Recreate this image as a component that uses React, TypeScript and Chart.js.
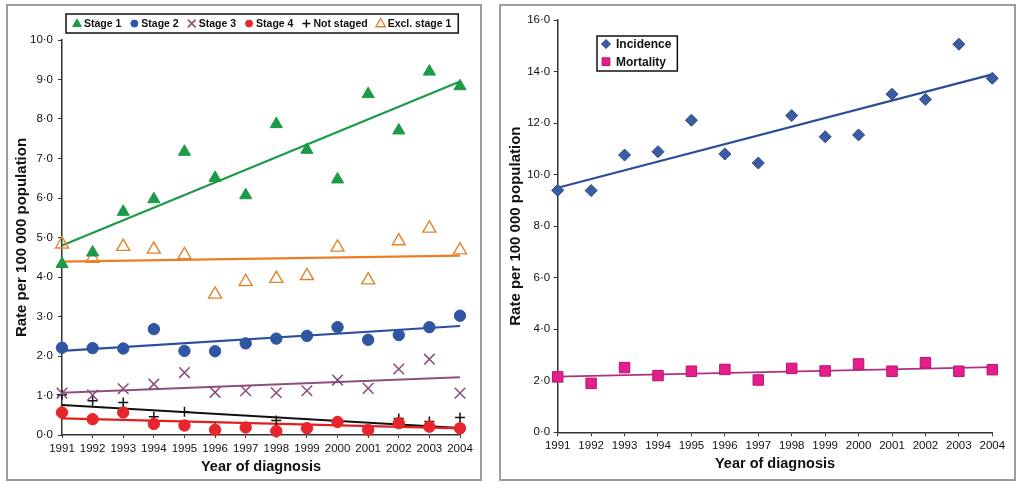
import React, { useEffect, useRef } from 'react';
import { Chart, registerables } from 'chart.js';

Chart.register(...registerables);

// ---------- data ----------
const years = [1991, 1992, 1993, 1994, 1995, 1996, 1997, 1998, 1999, 2000, 2001, 2002, 2003, 2004];

const stage1 = [4.33, 4.62, 5.65, 5.97, 7.17, 6.51, 6.07, 7.87, 7.22, 6.47, 8.63, 7.71, 9.2, 8.83];
const stage2 = [2.21, 2.2, 2.19, 2.68, 2.13, 2.12, 2.32, 2.44, 2.51, 2.73, 2.41, 2.53, 2.73, 3.02];
const stage3 = [1.06, 1.01, 1.17, 1.29, 1.58, 1.08, 1.12, 1.07, 1.12, 1.39, 1.18, 1.67, 1.92, 1.06];
const stage4 = [0.57, 0.4, 0.57, 0.28, 0.24, 0.13, 0.19, 0.1, 0.17, 0.33, 0.13, 0.3, 0.21, 0.17];
const notStaged = [1.02, 0.87, 0.82, 0.46, 0.59, 0.17, 0.18, 0.37, 0.17, 0.34, 0.11, 0.42, 0.34, 0.44];
const exclStage1 = [4.83, 4.47, 4.77, 4.7, 4.56, 3.56, 3.88, 3.96, 4.03, 4.75, 3.92, 4.91, 5.23, 4.68];

const incidence = [9.39, 9.38, 10.76, 10.89, 12.11, 10.8, 10.45, 12.29, 11.47, 11.54, 13.12, 12.92, 15.06, 13.74];
const mortality = [2.15, 1.9, 2.51, 2.2, 2.37, 2.44, 2.03, 2.48, 2.38, 2.65, 2.37, 2.7, 2.37, 2.43];

// trend line end points (first year, last year)
const trendYears = [1991, 2004];
const stage1Trend = [4.8, 8.95];
const stage2Trend = [2.13, 2.76];
const stage3Trend = [1.07, 1.46];
const stage4Trend = [0.42, 0.17];
const notStagedTrend = [0.76, 0.18];
const exclStage1Trend = [4.39, 4.54];
const incidenceTrend = [9.49, 13.89];
const mortalityTrend = [2.16, 2.53];

const leftLabels = ['Stage 1', 'Stage 2', 'Stage 3', 'Stage 4', 'Not staged', 'Excl. stage 1'];
const rightLabels = ['Incidence', 'Mortality'];
const xTitle = 'Year of diagnosis';
const yTitle = 'Rate per 100 000 population';

// ---------- helpers ----------
const FONT = "'Liberation Sans', Arial, Helvetica, sans-serif";

const pts = (vals: number[]) => years.map((x, i) => ({ x, y: vals[i] }));
const trendPts = (vals: number[]) => trendYears.map((x, i) => ({ x, y: vals[i] }));
const fmt = (v: any) => Number(v).toFixed(1).replace('.', '\u00B7');

function drawMarker(ctx: CanvasRenderingContext2D, ds: any, x: number, y: number, r: number) {
  const style = ds.pointStyle;
  ctx.save();
  ctx.beginPath();
  ctx.lineWidth = ds.borderWidth || 1;
  ctx.strokeStyle = ds.borderColor;
  ctx.fillStyle = ds.backgroundColor;
  let fill = true;
  switch (style) {
    case 'triangle':
      ctx.moveTo(x, y - r);
      ctx.lineTo(x + r * 0.866, y + r * 0.5);
      ctx.lineTo(x - r * 0.866, y + r * 0.5);
      ctx.closePath();
      break;
    case 'circle':
      ctx.arc(x, y, r, 0, Math.PI * 2);
      break;
    case 'rectRot':
      ctx.moveTo(x, y - r);
      ctx.lineTo(x + r, y);
      ctx.lineTo(x, y + r);
      ctx.lineTo(x - r, y);
      ctx.closePath();
      break;
    case 'rect': {
      const s = r * Math.SQRT1_2;
      ctx.rect(x - s, y - s, 2 * s, 2 * s);
      break;
    }
    case 'crossRot': {
      const s = r * Math.SQRT1_2;
      ctx.moveTo(x - s, y - s);
      ctx.lineTo(x + s, y + s);
      ctx.moveTo(x - s, y + s);
      ctx.lineTo(x + s, y - s);
      fill = false;
      break;
    }
    case 'cross':
      ctx.moveTo(x, y - r);
      ctx.lineTo(x, y + r);
      ctx.moveTo(x - r, y);
      ctx.lineTo(x + r, y);
      fill = false;
      break;
  }
  if (fill) ctx.fill();
  ctx.stroke();
  ctx.restore();
}

const boxLegend = {
  id: 'boxLegend',
  afterDraw(chart: any, _args: any, opts: any) {
    const ctx: CanvasRenderingContext2D = chart.ctx;
    const items = chart.data.datasets.filter((d: any) => !d.trend);
    ctx.save();
    ctx.font = `bold ${opts.fontSize}px ${FONT}`;
    ctx.textBaseline = 'middle';
    ctx.textAlign = 'left';
    ctx.fillStyle = '#111';
    if (opts.mode === 'row') {
      const cy = opts.top + opts.height / 2;
      let x = opts.left + opts.padLeft;
      let right = x;
      items.forEach((ds: any) => {
        drawMarker(ctx, ds, x, cy + (ds.legendDy || 0), ds.legendRadius);
        const tx = x + opts.markerGap;
        ctx.fillStyle = '#111';
        ctx.fillText(ds.label, tx, cy + 0.5);
        const w = ctx.measureText(ds.label).width;
        right = tx + w + opts.padRight;
        x = tx + w + opts.itemGap;
      });
      ctx.lineWidth = 1.5;
      ctx.strokeStyle = '#111';
      ctx.strokeRect(opts.left, opts.top, right - opts.left, opts.height);
    } else {
      let maxW = 0;
      items.forEach((ds: any, i: number) => {
        const cy = opts.top + opts.firstRow + i * opts.rowHeight;
        drawMarker(ctx, ds, opts.left + opts.padLeft, cy, ds.legendRadius);
        ctx.fillStyle = '#111';
        ctx.fillText(ds.label, opts.left + opts.padLeft + opts.markerGap, cy + 0.5);
        maxW = Math.max(maxW, ctx.measureText(ds.label).width);
      });
      ctx.lineWidth = 1.5;
      ctx.strokeStyle = '#111';
      ctx.strokeRect(opts.left, opts.top, opts.padLeft + opts.markerGap + maxW + opts.padRight, opts.height);
    }
    ctx.restore();
  },
};

const GREEN = '#1c9a48';
const BLUE = '#2f55a3';
const PURPLE = '#8a4a78';
const RED = '#e6262c';
const BLACK = '#111111';
const ORANGE = '#e0852f';
const ORANGE_LINE = '#ee7d22';
const DIAMOND = '#3a5ca3';
const DIAMOND_LINE = '#2c4d98';
const PINK = '#e61e8c';
const PINK_EDGE = '#b8146e';
const PINK_LINE = '#b03082';

function trendDs(label: string, vals: number[], color: string, width = 2) {
  return {
    label,
    trend: true,
    data: trendPts(vals),
    showLine: true,
    pointRadius: 0,
    borderColor: color,
    backgroundColor: color,
    borderWidth: width,
    fill: false,
    clip: false,
  };
}

const tickFont = { family: FONT, size: 11.5 };
const xTitleFont = { family: FONT, size: 14.5, weight: 'bold' as const };
const yTitleFont = { family: FONT, size: 15, weight: 'bold' as const };

function leftConfig(): any {
  const datasets = [
    { label: leftLabels[0], data: pts(stage1), pointStyle: 'triangle', pointRadius: 7, backgroundColor: GREEN, borderColor: GREEN, borderWidth: 1, legendRadius: 5, legendDy: 0.5, clip: false },
    { label: leftLabels[1], data: pts(stage2), pointStyle: 'circle', pointRadius: 5.7, backgroundColor: BLUE, borderColor: BLUE, borderWidth: 1, legendRadius: 3.5, clip: false },
    { label: leftLabels[2], data: pts(stage3), pointStyle: 'crossRot', pointRadius: 7.5, backgroundColor: PURPLE, borderColor: PURPLE, borderWidth: 1.5, legendRadius: 5.5, clip: false },
    { label: leftLabels[3], data: pts(stage4), pointStyle: 'circle', pointRadius: 5.7, backgroundColor: RED, borderColor: RED, borderWidth: 1, legendRadius: 3.5, clip: false },
    { label: leftLabels[4], data: pts(notStaged), pointStyle: 'cross', pointRadius: 5, backgroundColor: BLACK, borderColor: BLACK, borderWidth: 1.5, legendRadius: 4, clip: false },
    { label: leftLabels[5], data: pts(exclStage1), pointStyle: 'triangle', pointRadius: 7.5, backgroundColor: 'rgba(255,255,255,0)', borderColor: ORANGE, borderWidth: 1.4, legendRadius: 5.5, legendDy: 0.5, clip: false },
    trendDs('Stage 1 trend', stage1Trend, GREEN, 2.2),
    trendDs('Stage 2 trend', stage2Trend, '#2a4f9e', 2.2),
    trendDs('Stage 3 trend', stage3Trend, '#8c4f7c', 2),
    trendDs('Stage 4 trend', stage4Trend, '#e02020', 2.2),
    trendDs('Not staged trend', notStagedTrend, BLACK, 2),
    trendDs('Excl. stage 1 trend', exclStage1Trend, ORANGE_LINE, 2.2),
  ];
  return {
    type: 'scatter',
    data: { datasets },
    options: {
      animation: false,
      responsive: false,
      events: [],
      layout: { padding: { top: 34, right: 20, bottom: 0, left: 0 } },
      plugins: {
        legend: { display: false },
        tooltip: { enabled: false },
        boxLegend: { mode: 'row', left: 58, top: 8, height: 19, fontSize: 10.5, padLeft: 11, markerGap: 7, itemGap: 13, padRight: 7 },
      },
      scales: {
        x: {
          type: 'linear',
          min: 1991,
          max: 2004,
          afterFit: (s: any) => { s.height = 44; },
          ticks: { stepSize: 1, autoSkip: false, maxRotation: 0, minRotation: 0, callback: (v: any) => String(v), font: tickFont, color: '#111', padding: 4 },
          grid: { display: true, drawOnChartArea: false, drawTicks: true, tickLength: 3, color: '#333' },
          border: { color: '#333', width: 1.5 },
          title: { display: true, text: xTitle, font: xTitleFont, color: '#111', padding: { top: 0, bottom: 3.6 } },
        },
        y: {
          type: 'linear',
          min: 0,
          max: 10,
          afterFit: (s: any) => { s.width = 54; },
          ticks: { stepSize: 1, callback: fmt, font: tickFont, color: '#111', padding: 5 },
          grid: { display: true, drawOnChartArea: false, drawTicks: true, tickLength: 4, color: '#333' },
          border: { color: '#333', width: 1.5 },
          title: { display: true, text: yTitle, font: yTitleFont, color: '#111', padding: { top: 4.5, bottom: 0 } },
        },
      },
    },
    plugins: [boxLegend],
  };
}

function rightConfig(): any {
  const datasets = [
    { label: rightLabels[0], data: pts(incidence), pointStyle: 'rectRot', pointRadius: 6, backgroundColor: DIAMOND, borderColor: '#2a4787', borderWidth: 1, legendRadius: 4.5, clip: false },
    { label: rightLabels[1], data: pts(mortality), pointStyle: 'rect', pointRadius: 7.4, backgroundColor: PINK, borderColor: PINK_EDGE, borderWidth: 1, legendRadius: 5.5, clip: false },
    trendDs('Incidence trend', incidenceTrend, DIAMOND_LINE, 2.2),
    trendDs('Mortality trend', mortalityTrend, PINK_LINE, 1.8),
  ];
  return {
    type: 'scatter',
    data: { datasets },
    options: {
      animation: false,
      responsive: false,
      events: [],
      layout: { padding: { top: 14, right: 21.7, bottom: 0, left: 0 } },
      plugins: {
        legend: { display: false },
        tooltip: { enabled: false },
        boxLegend: { mode: 'column', left: 96, top: 30, height: 35, fontSize: 12, padLeft: 9, markerGap: 10, padRight: 6, firstRow: 8, rowHeight: 17.7 },
      },
      scales: {
        x: {
          type: 'linear',
          min: 1991,
          max: 2004,
          afterFit: (s: any) => { s.height = 46.7; },
          ticks: { stepSize: 1, autoSkip: false, maxRotation: 0, minRotation: 0, callback: (v: any) => String(v), font: tickFont, color: '#111', padding: 3 },
          grid: { display: true, drawOnChartArea: false, drawTicks: true, tickLength: 4, color: '#333' },
          border: { color: '#333', width: 1.5 },
          title: { display: true, text: xTitle, font: xTitleFont, color: '#111', padding: { top: 0, bottom: 6.3 } },
        },
        y: {
          type: 'linear',
          min: 0,
          max: 16,
          afterFit: (s: any) => { s.width = 56.7; },
          ticks: { stepSize: 2, callback: fmt, font: tickFont, color: '#111', padding: 3.5 },
          grid: { display: true, drawOnChartArea: false, drawTicks: true, tickLength: 4, color: '#333' },
          border: { color: '#333', width: 1.5 },
          title: { display: true, text: yTitle, font: yTitleFont, color: '#111', padding: { top: 6, bottom: 0 } },
        },
      },
    },
    plugins: [boxLegend],
  };
}

function ChartCanvas({ config, left, top, width, height }: any) {
  const ref = useRef<HTMLCanvasElement | null>(null);
  useEffect(() => {
    if (!ref.current) return;
    const chart = new Chart(ref.current, config());
    return () => chart.destroy();
  }, []);
  return (
    <canvas
      ref={ref}
      width={width}
      height={height}
      style={{ position: 'absolute', left, top, width, height }}
    />
  );
}

export default function App() {
  return (
    <div style={{ position: 'fixed', left: 0, top: 0, width: 1024, height: 489, background: '#ffffff', overflow: 'hidden' }}>
      <div style={{ position: 'absolute', left: 6, top: 4, width: 476, height: 477, border: '2px solid #9c9c9c', boxSizing: 'border-box' }} />
      <div style={{ position: 'absolute', left: 499, top: 4, width: 517, height: 477, border: '2px solid #9c9c9c', boxSizing: 'border-box' }} />
      <ChartCanvas config={leftConfig} left={8} top={6} width={472} height={473} />
      <ChartCanvas config={rightConfig} left={501} top={6} width={513} height={473} />
    </div>
  );
}
